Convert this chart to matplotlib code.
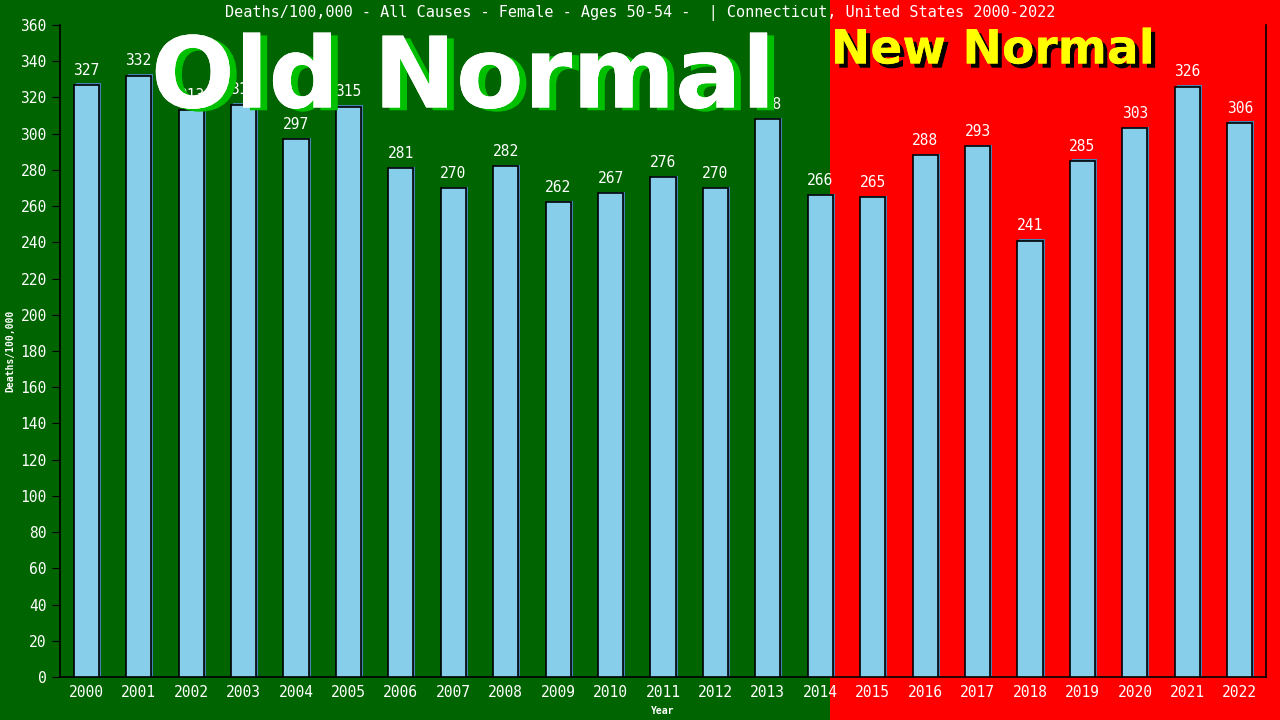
import matplotlib
matplotlib.use("Agg")
import matplotlib.pyplot as plt
import matplotlib.patheffects as pe
from matplotlib.patches import Rectangle
import matplotlib.transforms as mtransforms

# Data ------------------------------------------------------------------------
years = [2000, 2001, 2002, 2003, 2004, 2005, 2006, 2007, 2008, 2009, 2010, 2011,
         2012, 2013, 2014, 2015, 2016, 2017, 2018, 2019, 2020, 2021, 2022]
deaths = [327, 332, 313, 316, 297, 315, 281, 270, 282, 262, 267, 276,
          270, 308, 266, 265, 288, 293, 241, 285, 303, 326, 306]
y_ticks = list(range(0, 361, 20))

title = "Deaths/100,000 - All Causes - Female - Ages 50-54 -  | Connecticut, United States 2000-2022"
mono = "DejaVu Sans Mono"

# Figure ----------------------------------------------------------------------
fig = plt.figure(figsize=(12.8, 7.2), dpi=100)
fig.patch.set_facecolor("#006400")
split = 830 / 1280
fig.add_artist(Rectangle((split, 0), 1 - split, 1, transform=fig.transFigure,
                         facecolor="#ff0000", edgecolor="none", zorder=0))

ax = fig.add_axes([60 / 1280, 43 / 720, 1206 / 1280, 652 / 720])
ax.patch.set_alpha(0)

x = list(range(len(years)))

# shadow bars, then the bars on top
shadow = ax.bar(x, deaths, width=0.48, color="#4682b4", edgecolor="none", zorder=2)
off = mtransforms.offset_copy(ax.transData, fig=fig, x=2, y=1.5, units="dots")
for p in shadow:
    p.set_transform(off)
ax.bar(x, deaths, width=0.48, color="#87ceeb", edgecolor="black", linewidth=1.2, zorder=3)

for xi, v in zip(x, deaths):
    ax.text(xi, v + 4, str(v), ha="center", va="bottom", color="white",
            fontsize=10.5, family=mono, zorder=4)

ax.set_xlim(-0.5, len(years) - 0.5)
ax.set_ylim(0, 360)
ax.set_yticks(y_ticks)
ax.set_xticks(x)
ax.set_xticklabels([str(y) for y in years])
ax.tick_params(axis="y", colors="black", labelcolor="white", labelsize=10.5, length=6)
ax.tick_params(axis="x", length=0, labelcolor="white", labelsize=10.5, pad=6)
for lbl in ax.get_xticklabels() + ax.get_yticklabels():
    lbl.set_family(mono)

ax.spines["top"].set_visible(False)
for s in ["left", "right", "bottom"]:
    ax.spines[s].set_color("black")
    ax.spines[s].set_linewidth(1.2)

ax.set_ylabel("Deaths/100,000", color="white", fontsize=7, family=mono,
              fontweight="bold", labelpad=4)
ax.set_xlabel("Year", color="white", fontsize=7, family=mono, fontweight="bold", labelpad=4)

fig.text(640 / 1280, 1 - 13 / 720, title, ha="center", va="center", color="white",
         fontsize=11, family=mono)

# Overlay banners
fig.text(463 / 1280, 1 - 80 / 720, "Old Normal", ha="center", va="center",
         color="white", fontsize=71, fontweight="bold", zorder=5,
         path_effects=[pe.withSimplePatchShadow(offset=(5, -2), shadow_rgbFace="#00c000", alpha=1),
                       pe.Normal()])
fig.text(993 / 1280, 1 - 51 / 720, "New Normal", ha="center", va="center",
         color="#ffff00", fontsize=34, fontweight="bold", zorder=5,
         path_effects=[pe.withSimplePatchShadow(offset=(3, -3), shadow_rgbFace="black", alpha=1),
                       pe.Normal()])

fig.savefig("out.png", dpi=100, facecolor=fig.get_facecolor())
